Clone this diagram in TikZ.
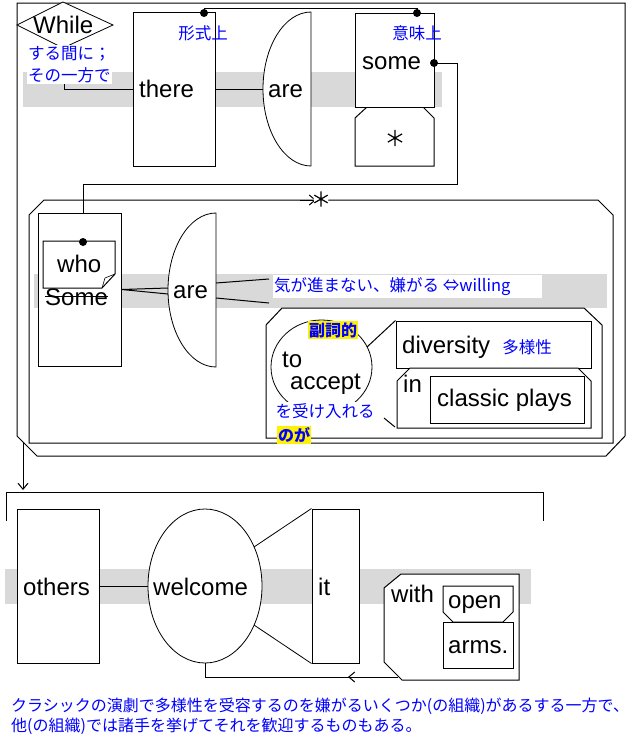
\documentclass[tikz,border=0pt]{standalone}
\usepackage{fontspec}
\setmainfont{Liberation Sans}
\newfontfamily\jpfont{Noto Sans CJK JP}
\usetikzlibrary{shapes.geometric,arrows.meta}
\tikzset{
  ln/.style={line width=1pt, line join=miter},
  wbox/.style={draw, line width=1pt, fill=white, inner sep=0pt},
  word/.style={font=\fontsize{24}{24}\selectfont, inner sep=0pt, text=black},
  jp/.style={font=\jpfont\fontsize{16.5}{22}\selectfont, text=blue, inner sep=1pt},
  jpb/.style={font=\jpfont\bfseries\fontsize{16}{20}\selectfont, text=blue, fill=yellow, inner sep=1pt},
  band/.style={fill=black!15},
  dot/.style={circle, fill=black, inner sep=0pt, minimum size=8pt},
  tip/.style={-{Straight Barb[length=6pt,width=10pt]}},
  astk/.style={circle, inner sep=0pt, minimum size=16pt},
  astkline/.style={line width=1.2pt}
}
\begin{document}
\begin{tikzpicture}[x=1pt,y=-1pt]
\useasboundingbox (0,0) rectangle (638,750);
% grey bands
\fill[band] (23,72) rectangle (442,107);
\fill[band] (34,274) rectangle (607,308);
\fill[band] (5,569) rectangle (531,604);
% outer frame
\draw[ln] (17,3) -- (625,3) -- (625,436) -- (606,456) -- (37,456) -- (17,436) -- cycle;
% While
\draw[line width=0.8pt, fill=white] (17,25) -- (63,2) -- (113,25) -- (63,48) -- cycle;
\node[word, anchor=base west] (while) at (33,33) {While};
\coordinate (wb) at (64,48);
% there
\node[wbox, minimum width=82pt, minimum height=154pt] (there) at (174,89) {};
\node[word, anchor=base west] (thereT) at (139,97) {there};
\draw[ln] (wb) |- (there.west);
\node[jp, fill=white, align=left, anchor=north west] (whileJ) at (27,45) {する間に；\\その一方で};
% are
\draw[line width=0.8pt, fill=white] (311,12) arc[start angle=90, end angle=270, x radius=48pt, y radius=77pt] -- cycle;
\coordinate (areL) at (263,89);
\node[word, anchor=base west] (areT) at (268,97) {are};
\draw[ln] (there.east) -- (areL);
% some and star
\draw[ln, fill=white] (367,107) -- (423,107) -- (434,118) -- (434,166) -- (355,166) -- (355,118) -- cycle;
\node[wbox, minimum width=79pt, minimum height=94pt] (some) at (394.5,60) {};
\node[word, anchor=base west] (someT) at (362,69) {some};
\node[astk] (star1) at (395,138) {};
\draw[astkline] (star1.90) -- (star1.270) (star1.30) -- (star1.210) (star1.150) -- (star1.330);
% formal / semantic link
\coordinate (d1) at (204,13);
\coordinate (d2) at (417,13);
\draw[ln] (d1) -- (204,8) -| (d2);
\node[dot] at (d1) {};
\node[dot] at (d2) {};
\node[jp] (formal) at (203,33) {形式上};
\node[jp] (meaning) at (417,33) {意味上};
% some -> who link
\coordinate (d3) at (434,63);
\coordinate (d4) at (83,242);
\draw[ln] (d3) -- (457,63) |- (83,184) -- (d4);
% inner frame
\draw[ln] (44,200) -- (598,200) -- (613,215) -- (613,443) -- (29,443) -- (29,215) -- cycle;
\draw[ln, tip] (300,200) -- (316,200);
\node[astk, fill=white, minimum size=15pt] (star2) at (321,199) {};
\draw[astkline] (star2.90) -- (star2.270) (star2.30) -- (star2.210) (star2.150) -- (star2.330);
% who / Some
\node[wbox, minimum width=83pt, minimum height=153pt] (whoOuter) at (79.5,289.5) {};
\node[word, anchor=base west] (someS) at (45,305) {Some};
\draw[ln] (someS.west) -- (someS.east);
\draw[ln, fill=white] (43,241) -- (115,241) -- (115,274) -- (102,288) -- (43,288) -- cycle;
\draw[line width=0.6pt] (102,288) -- (105,278) -- (115,274);
\node[word, anchor=base west] (whoT) at (57,272) {who};
\node[dot] at (d3) {};
\node[dot] at (d4) {};
% are 2
\draw[line width=0.8pt, fill=white] (216,213) arc[start angle=90, end angle=270, x radius=48pt, y radius=77pt] -- cycle;
\node[word, anchor=base west] (are2T) at (173,298) {are};
\coordinate (a2a) at (168,288);
\coordinate (a2b) at (168,294);
\draw[ln] (whoOuter.east) -- (a2a) (whoOuter.east) -- (a2b);
% unwilling label
\fill[white] (273,275) rectangle (542,298);
\node[jp, anchor=west] (unw) at (273,287) {気が進まない、嫌がる ⇔willing};
\coordinate (u1) at (269,279);
\coordinate (u2) at (269,303);
\draw[ln] (216,283) -- (u1) (216,298) -- (u2);
% to accept box
\draw[ln, fill=white] (282,308) -- (584,308) -- (602,325) -- (602,438) -- (266,438) -- (266,325) -- cycle;
\draw[line width=0.8pt] (321.5,367) ellipse [x radius=50.5pt, y radius=47pt];
\node[word, anchor=base west] (toT) at (282,367) {to};
\node[word, anchor=base west] (accT) at (290,389) {accept};
\node[jpb] (adv) at (333,330) {副詞的};
\node[jp, fill=white] (ukeire) at (325,411) {を受け入れる};
\node[jpb] (noga) at (294,435) {のが};
% diversity in classic plays
\node[wbox, minimum width=195pt, minimum height=47pt] (div) at (493.5,344.5) {};
\draw[ln] (367,347) -- (div.north west);
\node[word, anchor=base west] (divT) at (402,353) {diversity};
\node[jp] (tayo) at (527,347) {多様性};
\draw[ln, fill=white] (410,368) -- (578,368) -- (591,381) -- (591,428) -- (397,428) -- (397,381) -- cycle;
\draw[ln] (384,418) -- (395,427);
\node[word, anchor=base west] (inT) at (403,392) {in};
\node[wbox, minimum width=154pt, minimum height=47pt] (classic) at (507,399.5) {};
\node[word, anchor=base west] (clT) at (437,406) {classic plays};
% arrow down to second clause
\coordinate (arS) at (23,442);
\coordinate (arE) at (23,490);
\draw[ln, tip] (arS) -- (arE);
\draw[ln] (6,521) -- (6,492) -- (543,492) -- (543,521);
% others welcome it
\node[wbox, minimum width=82pt, minimum height=154pt] (others) at (58,586) {};
\node[word, anchor=base west] (othT) at (23,595) {others};
\node[draw, ellipse, line width=0.8pt, fill=white, minimum width=114pt, minimum height=154pt, inner sep=0pt] (welcome) at (205,586) {};
\node[word, anchor=base west] (welT) at (153,595) {welcome};
\draw[ln] (others.east) -- (welcome.west);
\node[wbox, minimum width=47pt, minimum height=154pt] (it) at (335.5,586) {};
\node[word, anchor=base west] (itT) at (318,595) {it};
\draw[line width=0.8pt] (254,547) -- (it.north west) (254,625) -- (it.south west);
% with open arms
\draw[ln, fill=white] (401,574) -- (519,574) -- (519,680) -- (402,680) -- (384,662) -- (384,588) -- cycle;
\node[word, anchor=base west] (withT) at (391,602) {with};
\draw[ln, fill=white] (443,586) -- (513,586) -- (513,612) -- (503,622) -- (453,622) -- (443,612) -- cycle;
\node[word, anchor=base west] (openT) at (448,608) {open};
\node[wbox, minimum width=70pt, minimum height=46pt] (arms) at (478,645) {};
\node[word, anchor=base west] (armsT) at (448,653) {arms.};
\coordinate (wc) at (398,677);
\draw[ln] (wc) -| (welcome.south);
\draw[ln, tip] (362,677) -- (348,677);
% translation
\node[jp, align=left, anchor=north west, font=\jpfont\fontsize{16}{20}\selectfont] (summary) at (10,697) {クラシックの演劇で多様性を受容するのを嫌がるいくつか(の組織)があるする一方で、\\他(の組織)では諸手を挙げてそれを歓迎するものもある。};
\end{tikzpicture}
\end{document}
